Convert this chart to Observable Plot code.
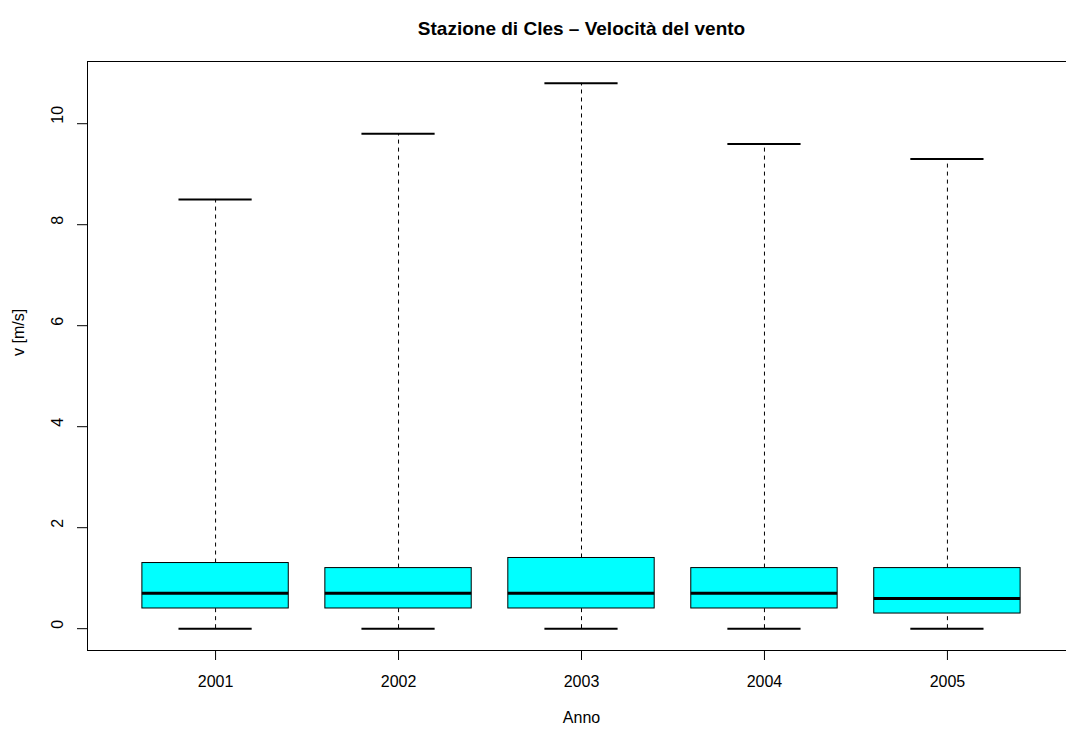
<!DOCTYPE html>
<html>
<head>
<meta charset="utf-8">
<script src="https://cdn.jsdelivr.net/npm/d3@7"></script>
<script src="https://cdn.jsdelivr.net/npm/@observablehq/plot@0.6"></script>
<style>
  html, body { margin: 0; padding: 0; background: #fff; }
  #chart svg { display: block; overflow: hidden; }
</style>
</head>
<body>
<div id="chart"></div>
<script>
const title = "Stazione di Cles \u2013 Velocit\u00e0 del vento";
const xLabel = "Anno";
const yLabel = "v [m/s]";
const years = ["2001", "2002", "2003", "2004", "2005"];
const minV = [0, 0, 0, 0, 0];
const q1V = [0.4, 0.4, 0.4, 0.4, 0.3];
const medV = [0.7, 0.7, 0.7, 0.7, 0.6];
const q3V = [1.3, 1.2, 1.4, 1.2, 1.2];
const maxV = [8.5, 9.8, 10.8, 9.6, 9.3];
const yTicks = [0, 2, 4, 6, 8, 10];

const data = years.map((y, i) => ({
  pos: i + 1, year: y, min: minV[i], q1: q1V[i], med: medV[i], q3: q3V[i], max: maxV[i]
}));

const yMax = d3.max(maxV), yMin = d3.min(minV);
const yPad = (yMax - yMin) * 0.04;
const xPad = years.length * 0.04;

const font = "Liberation Sans, Arial, Helvetica, sans-serif";

const chart = Plot.plot({
  width: 1066,
  height: 731,
  marginLeft: 87,
  marginTop: 61,
  marginBottom: 81,
  marginRight: -9,
  style: { fontFamily: font, fontSize: "16px", color: "#000", background: "#fff" },
  x: { type: "linear", domain: [0.5 - xPad, years.length + 0.5 + xPad] },
  y: { domain: [yMin - yPad, yMax + yPad] },
  marks: [
    // whiskers (dashed)
    Plot.ruleX(data, { x: "pos", y1: "q3", y2: "max", stroke: "#000", strokeWidth: 1, strokeDasharray: "4,4" }),
    Plot.ruleX(data, { x: "pos", y1: "min", y2: "q1", stroke: "#000", strokeWidth: 1, strokeDasharray: "4,4" }),
    // caps
    Plot.ruleY(data, { y: "max", x1: d => d.pos - 0.2, x2: d => d.pos + 0.2, stroke: "#000", strokeWidth: 2 }),
    Plot.ruleY(data, { y: "min", x1: d => d.pos - 0.2, x2: d => d.pos + 0.2, stroke: "#000", strokeWidth: 2 }),
    // boxes
    Plot.rect(data, { x1: d => d.pos - 0.4, x2: d => d.pos + 0.4, y1: "q1", y2: "q3", fill: "#00ffff", stroke: "#000", strokeWidth: 1 }),
    // medians
    Plot.ruleY(data, { y: "med", x1: d => d.pos - 0.4, x2: d => d.pos + 0.4, stroke: "#000", strokeWidth: 3 }),
    // axes
    Plot.axisX({ ticks: data.map(d => d.pos), tickFormat: p => years[p - 1], tickSize: 10, tickPadding: 15, label: null, fontSize: 16 }),
    Plot.axisY({ ticks: yTicks, tickSize: 10, tickFormat: () => "", label: null }),
    Plot.text(yTicks, { y: d => d, text: d => String(d), frameAnchor: "left", dx: -30, rotate: -90, fontSize: 16 }),
    Plot.frame({ stroke: "#000", strokeWidth: 1 }),
    // title and axis labels
    Plot.text([title], { frameAnchor: "top", dy: -40, fontWeight: "bold", fontSize: 19 }),
    Plot.text([xLabel], { frameAnchor: "bottom", dy: 72, fontSize: 16 }),
    Plot.text([yLabel], { frameAnchor: "left", dx: -69, rotate: -90, fontSize: 16 })
  ]
});
document.getElementById("chart").appendChild(chart);
</script>
</body>
</html>
